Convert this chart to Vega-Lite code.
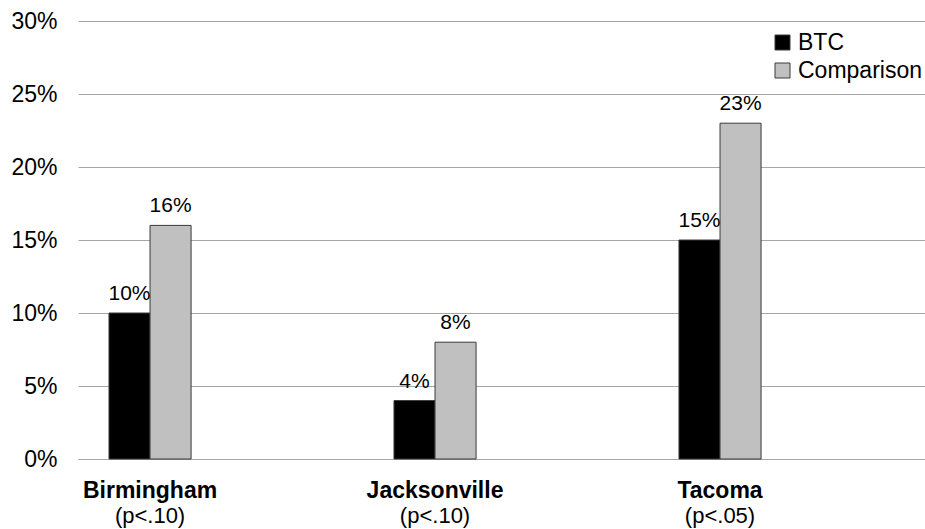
{
  "$schema": "https://vega.github.io/schema/vega-lite/v6.json",
  "width": 847,
  "height": 438,
  "autosize": {"type": "none"},
  "padding": {"left": 78, "top": 21, "right": 0, "bottom": 70},
  "background": "white",
  "config": {"view": {"stroke": null}, "font": "Liberation Sans"},
  "data": {
    "values": [
      {"city": "Birmingham", "series": "BTC", "value": 0.10, "p": "(p<.10)"},
      {"city": "Birmingham", "series": "Comparison", "value": 0.16, "p": "(p<.10)"},
      {"city": "Jacksonville", "series": "BTC", "value": 0.04, "p": "(p<.10)"},
      {"city": "Jacksonville", "series": "Comparison", "value": 0.08, "p": "(p<.10)"},
      {"city": "Tacoma", "series": "BTC", "value": 0.15, "p": "(p<.05)"},
      {"city": "Tacoma", "series": "Comparison", "value": 0.23, "p": "(p<.05)"}
    ]
  },
  "layer": [
    {
      "mark": {"type": "bar", "stroke": "#3a3a3a", "strokeWidth": 1},
      "encoding": {
        "x": {
          "field": "city", "type": "nominal",
          "sort": ["Birmingham", "Jacksonville", "Tacoma"],
          "scale": {"paddingInner": 0.712, "paddingOuter": 0.342, "align": 0.159},
          "axis": {
            "title": null, "labelAngle": 0, "ticks": false, "grid": false,
            "domain": true, "domainColor": "#a6a6a6", "domainWidth": 1,
            "labelFontSize": 23, "labelFontWeight": "bold", "labelColor": "#000000",
            "labelPadding": 20
          }
        },
        "xOffset": {"field": "series", "sort": ["BTC", "Comparison"], "scale": {"paddingInner": 0, "paddingOuter": 0}},
        "y": {
          "field": "value", "type": "quantitative",
          "scale": {"domain": [0, 0.3]},
          "axis": {
            "title": null, "values": [0, 0.05, 0.1, 0.15, 0.2, 0.25, 0.3], "format": ".0%",
            "ticks": false, "domain": false, "grid": true, "gridColor": "#a6a6a6", "gridWidth": 1,
            "labelFontSize": 23, "labelColor": "#000000", "labelPadding": 21
          }
        },
        "color": {
          "field": "series", "type": "nominal",
          "scale": {"domain": ["BTC", "Comparison"], "range": ["#000000", "#c0c0c0"]},
          "legend": {
            "title": null, "orient": "none", "legendX": 693, "legendY": 10,
            "symbolType": "square", "symbolSize": 225, "symbolStrokeColor": "#3a3a3a", "symbolStrokeWidth": 1,
            "labelFontSize": 23, "labelColor": "#000000", "labelOffset": 4, "rowPadding": 4
          }
        }
      }
    },
    {
      "mark": {"type": "text", "baseline": "alphabetic", "dy": -13, "fontSize": 21, "color": "#000000"},
      "encoding": {
        "x": {
          "field": "city", "type": "nominal",
          "sort": ["Birmingham", "Jacksonville", "Tacoma"],
          "scale": {"paddingInner": 0.712, "paddingOuter": 0.342, "align": 0.159},
          "axis": {
            "title": null, "orient": "bottom", "labelAngle": 0, "ticks": false, "grid": false, "domain": false,
            "labelFontSize": 22, "labelColor": "#000000", "labelPadding": 46,
            "labelExpr": "datum.value == 'Tacoma' ? '(p<.05)' : '(p<.10)'"
          }
        },
        "xOffset": {"field": "series", "sort": ["BTC", "Comparison"], "scale": {"paddingInner": 0, "paddingOuter": 0}},
        "y": {"field": "value", "type": "quantitative"},
        "text": {"field": "value", "type": "quantitative", "format": ".0%"}
      }
    }
  ],
  "resolve": {"axis": {"x": "independent"}}
}
